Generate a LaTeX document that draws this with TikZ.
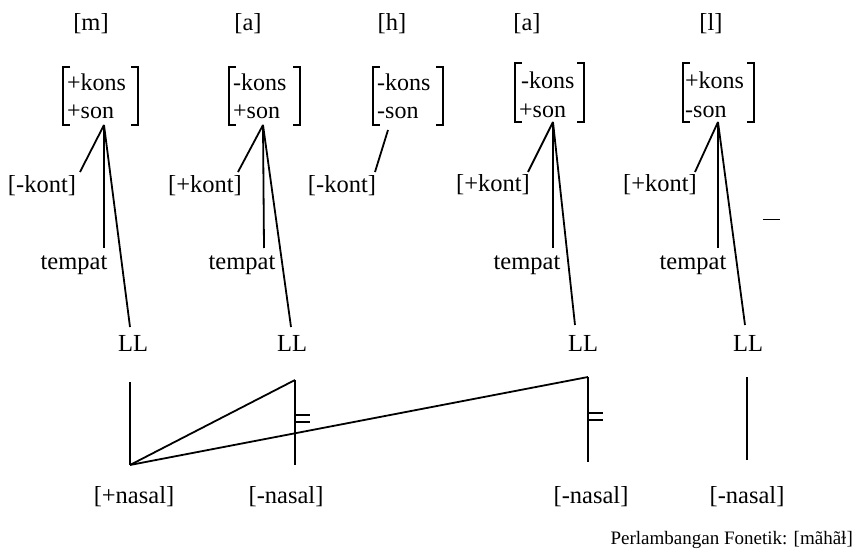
\documentclass[tikz,border=0pt]{standalone}
\usepackage{fontspec}
\setmainfont{Liberation Serif}
\begin{document}
\begin{tikzpicture}[x=1pt,y=-1pt,
  lbl/.style={font=\fontsize{24.5}{28}\selectfont, inner sep=0pt, anchor=base},
  ftxt/.style={font=\fontsize{24}{28}\selectfont, inner sep=0pt, anchor=base west},
  ln/.style={line width=1.8pt},
  brk/.style={line width=1.8pt},
  eqm/.style={line width=2pt}]
\useasboundingbox (0,0) rectangle (860,556);

% ---------- column 1 [m]
\node[lbl] (s1) at (91,31) {[m]};
\node[ftxt] (f1a) at (67,91) {+kons};
\node[ftxt] (f1b) at (67,119) {+son};
\draw[brk] (70,67) -- (63,67) -- (63,125) -- (70,125);
\draw[brk] (131,67) -- (138,67) -- (138,125) -- (131,125);
\coordinate (a1) at (104,125);
\node[lbl] (k1) at (42,193) {[-kont]};
\coordinate (k1e) at (80,172);
\node[lbl] (t1) at (74,270) {tempat};
\coordinate (t1e) at (104,248);
\node[lbl] (l1) at (133,352) {LL};
\coordinate (l1e) at (130,327);
\draw[ln] (a1) -- (k1e);
\draw[ln] (a1) -- (t1e);
\draw[ln] (a1) -- (l1e);

% ---------- column 2 [a]
\node[lbl] (s2) at (248,31) {[a]};
\node[ftxt] (f2a) at (233,91) {-kons};
\node[ftxt] (f2b) at (233,119) {+son};
\draw[brk] (236,67) -- (229,67) -- (229,125) -- (236,125);
\draw[brk] (293,67) -- (300,67) -- (300,125) -- (293,125);
\coordinate (a2) at (263,125);
\node[lbl] (k2) at (205,193) {[+kont]};
\coordinate (k2e) at (238,172);
\node[lbl] (t2) at (242,270) {tempat};
\coordinate (t2e) at (264,248);
\node[lbl] (l2) at (292,352) {LL};
\coordinate (l2e) at (291,327);
\draw[ln] (a2) -- (k2e);
\draw[ln] (a2) -- (t2e);
\draw[ln] (a2) -- (l2e);

% ---------- column 3 [h]
\node[lbl] (s3) at (392,31) {[h]};
\node[ftxt] (f3a) at (377,91) {-kons};
\node[ftxt] (f3b) at (377,119) {-son};
\draw[brk] (380,67) -- (373,67) -- (373,125) -- (380,125);
\draw[brk] (436,67) -- (443,67) -- (443,125) -- (436,125);
\coordinate (a3) at (388,130);
\node[lbl] (k3) at (342,193) {[-kont]};
\coordinate (k3e) at (375,172);
\draw[ln] (a3) -- (k3e);

% ---------- column 4 [a]
\node[lbl] (s4) at (527,31) {[a]};
\node[ftxt] (f4a) at (521,89) {-kons};
\node[ftxt] (f4b) at (519,118) {+son};
\draw[brk] (522,63) -- (515,63) -- (515,122) -- (522,122);
\draw[brk] (577,63) -- (584,63) -- (584,122) -- (577,122);
\coordinate (a4) at (553,122);
\node[lbl] (k4) at (493,192) {[+kont]};
\coordinate (k4e) at (528,172);
\node[lbl] (t4) at (527,270) {tempat};
\coordinate (t4e) at (553,248);
\node[lbl] (l4) at (583,352) {LL};
\coordinate (l4e) at (575,325);
\draw[ln] (a4) -- (k4e);
\draw[ln] (a4) -- (t4e);
\draw[ln] (a4) -- (l4e);

% ---------- column 5 [l]
\node[lbl] (s5) at (711,31) {[l]};
\node[ftxt] (f5a) at (685,89) {+kons};
\node[ftxt] (f5b) at (685,118) {-son};
\draw[brk] (690,63) -- (683,63) -- (683,122) -- (690,122);
\draw[brk] (747,63) -- (754,63) -- (754,122) -- (747,122);
\coordinate (a5) at (718,122);
\node[lbl] (k5) at (660,192) {[+kont]};
\coordinate (k5e) at (695,172);
\node[lbl] (t5) at (693,270) {tempat};
\coordinate (t5e) at (718,248);
\node[lbl] (l5) at (748,352) {LL};
\coordinate (l5e) at (745,325);
\draw[ln] (a5) -- (k5e);
\draw[ln] (a5) -- (t5e);
\draw[ln] (a5) -- (l5e);

% small stray dash
\coordinate (d1) at (763,219);
\coordinate (d2) at (780,219);
\draw[line width=0.8pt] (d1) -- (d2);

% ---------- nasal tier
\coordinate (n1t) at (130,382);
\coordinate (n1) at (130,465);
\coordinate (n2t) at (295,380);
\coordinate (n2) at (295,465);
\coordinate (n4t) at (588,377);
\coordinate (n4) at (588,462);
\coordinate (n5t) at (747,377);
\coordinate (n5) at (747,460);
\draw[ln] (n1t) -- (n1);
\draw[ln] (n1) -- (n2t);
\draw[ln] (n1) -- (n4t);
\draw[ln] (n2t) -- (n2);
\draw[ln] (n4t) -- (n4);
\draw[ln] (n5t) -- (n5);
% delinking marks
\draw[eqm] (n2t) ++(0,35) coordinate (e2a) -- ++(15,0);
\draw[eqm] (n2t) ++(0,42) coordinate (e2b) -- ++(15,0);
\draw[eqm] (n4t) ++(0,36) coordinate (e4a) -- ++(15,0);
\draw[eqm] (n4t) ++(0,43) coordinate (e4b) -- ++(15,0);

\node[lbl] (m1) at (134,503) {[+nasal]};
\node[lbl] (m2) at (286,503) {[-nasal]};
\node[lbl] (m4) at (591,503) {[-nasal]};
\node[lbl] (m5) at (747,503) {[-nasal]};

\node[font=\fontsize{19}{23}\selectfont, inner sep=0pt, anchor=base east] (cap) at (853,544) {Perlambangan Fonetik: [mãhãɫ]};
\end{tikzpicture}
\end{document}
